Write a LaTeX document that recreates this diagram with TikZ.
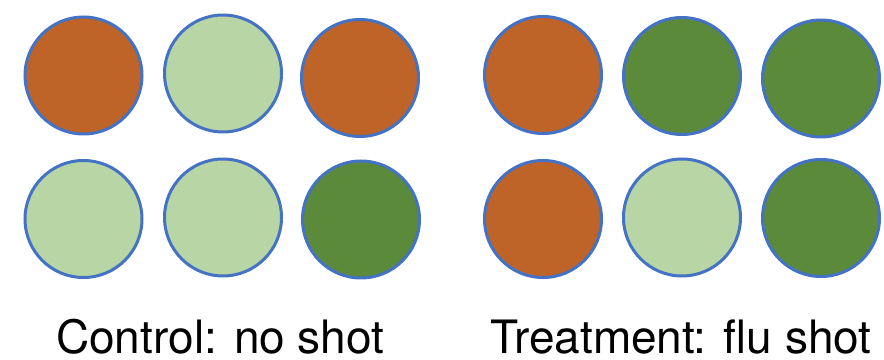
\documentclass[tikz,border=0pt]{standalone}
\usepackage{fontspec}
\setmainfont{TeX Gyre Heros}
\definecolor{orng}{RGB}{190,100,40}
\definecolor{lgrn}{RGB}{183,213,165}
\definecolor{dgrn}{RGB}{91,138,59}
\definecolor{rim}{RGB}{68,114,196}
\tikzset{
  dot/.style={circle,draw=rim,line width=3pt,minimum size=117pt,inner sep=0pt},
  lab/.style={anchor=base west,inner sep=0pt,text depth=0pt,font=\fontsize{46pt}{50pt}\selectfont,text=black}
}
\begin{document}
\begin{tikzpicture}[x=1pt,y=1pt]
\useasboundingbox (0,0) rectangle (884,359);
% control group
\node[dot,fill=orng] (c1) at (83.5,283.5) {};
\node[dot,fill=lgrn] (c2) at (223,285.5) {};
\node[dot,fill=orng] (c3) at (360,281) {};
\node[dot,fill=lgrn] (c4) at (83.5,140) {};
\node[dot,fill=lgrn] (c5) at (223,141.5) {};
\node[dot,fill=dgrn] (c6) at (361,139.5) {};
% treatment group
\node[dot,fill=orng] (t1) at (543,284) {};
\node[dot,fill=dgrn] (t2) at (682,283) {};
\node[dot,fill=dgrn] (t3) at (821,280.5) {};
\node[dot,fill=orng] (t4) at (543,140) {};
\node[dot,fill=lgrn] (t5) at (682,141.5) {};
\node[dot,fill=dgrn] (t6) at (821,141) {};
% labels
\node[lab] (lc) at (56,5.5) {Control: no shot};
\node[lab] (lt) at (490,5.5) {Treatment: flu shot};
\end{tikzpicture}
\end{document}
